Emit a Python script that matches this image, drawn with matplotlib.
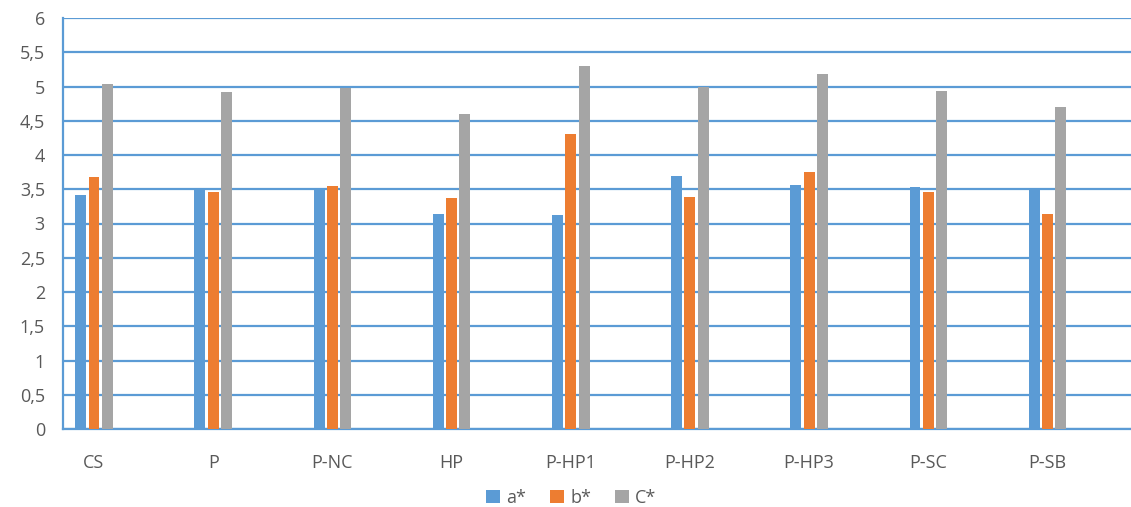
import matplotlib
matplotlib.use("Agg")
import matplotlib.pyplot as plt
from matplotlib.patches import Patch
from matplotlib.ticker import FuncFormatter, MultipleLocator
import numpy as np

plt.rcParams['font.family'] = ['Open Sans', 'DejaVu Sans']

categories = ["CS", "P", "P-NC", "HP", "P-HP1", "P-HP2", "P-HP3", "P-SC", "P-SB"]
a_star = [3.41, 3.50, 3.50, 3.14, 3.13, 3.69, 3.56, 3.53, 3.50]
b_star = [3.68, 3.46, 3.55, 3.37, 4.30, 3.38, 3.75, 3.46, 3.14]
c_star = [5.03, 4.92, 4.98, 4.60, 5.30, 4.99, 5.18, 4.94, 4.70]
series_names = ["a*", "b*", "C*"]

colors = ["#5B9BD5", "#ED7D31", "#A5A5A5"]
grid_color = "#5B9BD5"
text_color = "#595959"

W, H = 1131, 507
fig = plt.figure(figsize=(W / 100, H / 100), dpi=100)
ax = fig.add_axes([63 / W, (H - 429) / H, (W - 63) / W, (429 - 18) / H])

x = np.arange(len(categories))
offset = 0.112
width = 0.092
for k, vals in enumerate([a_star, b_star, c_star]):
    ax.bar(x + (k - 1) * offset, vals, width=width, color=colors[k], zorder=3,
           label=series_names[k])

ax.set_ylim(0, 6)
ax.set_xlim(-0.26, 8.70)
ax.yaxis.set_major_locator(MultipleLocator(0.5))
ax.yaxis.set_major_formatter(FuncFormatter(
    lambda v, p: (f"{v:g}").replace(".", ",")))
ax.grid(axis="y", color=grid_color, linewidth=1.6, zorder=0)
ax.set_axisbelow(True)

for side in ["top", "right"]:
    ax.spines[side].set_visible(False)
for side in ["left", "bottom"]:
    ax.spines[side].set_color(grid_color)
    ax.spines[side].set_linewidth(1.6)

ax.set_xticks(x)
ax.set_xticklabels(categories)
ax.tick_params(axis="both", length=0, labelsize=13, labelcolor=text_color)
ax.tick_params(axis="x", pad=18)
ax.tick_params(axis="y", pad=13)

handles = [Patch(facecolor=c, edgecolor="none") for c in colors]
fig.legend(handles, series_names, loc="center", bbox_to_anchor=(0.505, 0.018),
           ncol=3, frameon=False, fontsize=13, labelcolor=text_color,
           handlelength=0.78, handleheight=0.78, handletextpad=0.35,
           columnspacing=1.3)

fig.savefig("out.png", dpi=100)
